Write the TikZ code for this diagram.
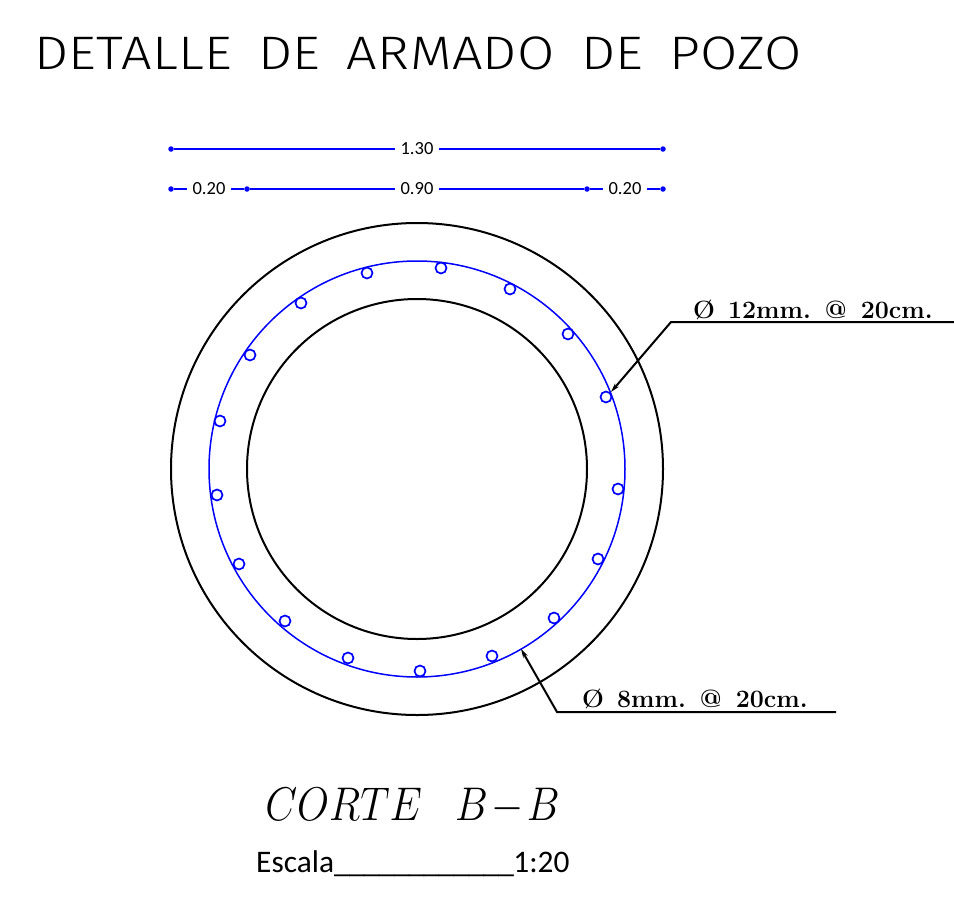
\documentclass[tikz,border=0pt]{standalone}
\usepackage{fontspec}
\usetikzlibrary{arrows.meta}
\newfontfamily\dimfont{Carlito}
\newfontfamily\titlefont[FakeStretch=1.15,LetterSpace=0.8,WordSpace=1.7]{Fira Sans Light}
\newcommand\usrun{\_\kern-0.7pt}
\definecolor{rebar}{RGB}{0,0,255}
\tikzset{
  ring/.style={draw=black,line width=2pt},
  hoop/.style={draw=rebar,line width=1.5pt},
  bar/.style={circle,draw=rebar,line width=1.7pt,fill=white,minimum size=11pt,inner sep=0pt},
  dimline/.style={draw=rebar,line width=1.5pt},
  dimend/.style={circle,fill=rebar,minimum size=5.5pt,inner sep=0pt},
  dimtext/.style={fill=white,inner xsep=5.5pt,inner ysep=0pt,minimum height=14pt,font=\dimfont\fontsize{18.5}{18.5}\selectfont},
  leader/.style={draw=black,line width=2pt},
  tip/.style={-{Stealth[length=9pt,width=5pt]}},
  note/.style={inner sep=0pt,anchor=base west,font=\fontsize{25}{25}\selectfont\bfseries}
}
\begin{document}
\begin{tikzpicture}[x=1pt,y=-1pt]
\useasboundingbox (0,0) rectangle (954,900);
% title
\node[inner sep=0pt,anchor=base west] (title) at (34,69) {\titlefont\fontsize{47}{47}\selectfont DETALLE DE ARMADO DE POZO};
% rings
\draw[ring] (417,469) circle (246);
\draw[ring] (417,469) circle (170);
\draw[hoop] (417,469) circle (208);
% bars
\foreach \n/\x/\y in {a/441/268,b/510/289,c/568/334,d/606/397,e/618/489,f/598/559,g/554/618,h/492/656,i/420/671,j/348/658,k/285/621,l/239/564,m/217/495,n/220/421,o/250/355,p/301/303,q/367/273}
  \node[bar] (bar\n) at (\x,\y) {};
% dimensions
\node[dimend] (d1) at (171,149) {};
\node[dimend] (d2) at (663,149) {};
\draw[dimline] (d1) -- (d2);
\node[dimtext] (t130) at (417,149) {1.30};
\node[dimend] (e1) at (171,189) {};
\node[dimend] (e2) at (247,189) {};
\node[dimend] (e3) at (587,189) {};
\node[dimend] (e4) at (663,189) {};
\draw[dimline] (e1) -- (e2) -- (e3) -- (e4);
\node[dimtext] (t20a) at (209,189) {0.20};
\node[dimtext] (t90) at (417,189) {0.90};
\node[dimtext] (t20b) at (625,189) {0.20};
% leaders
\coordinate (l1a) at (954,322);
\coordinate (l1b) at (671,322);
\coordinate (l1c) at (611,392);
\draw[leader,tip] (l1a) -- (l1b) -- (l1c);
\node[note] (n12) at (693,318) {Ø\hspace{13pt}12mm.\hspace{14pt}@\hspace{14pt}20cm.};
\coordinate (l2a) at (836,712);
\coordinate (l2b) at (557,712);
\coordinate (l2c) at (521,649);
\draw[leader,tip] (l2a) -- (l2b) -- (l2c);
\node[note] (n8) at (582,707) {Ø\hspace{13pt}8mm.\hspace{14pt}@\hspace{14pt}20cm.};
% caption
\node[inner sep=0pt,anchor=base west,xscale=1.66,yscale=1.9,transform shape] (corte) at (265,820) {\fontsize{48}{48}\selectfont $CORTE\hspace{20pt}B\kern2pt{-}\kern2pt B$};
\node[inner sep=0pt,anchor=base west] (escala) at (256,872) {\dimfont\fontsize{31.4}{31.4}\selectfont Escala\usrun\usrun\usrun\usrun\usrun\usrun\usrun\usrun\usrun\usrun\usrun\usrun 1:20};
\end{tikzpicture}
\end{document}
